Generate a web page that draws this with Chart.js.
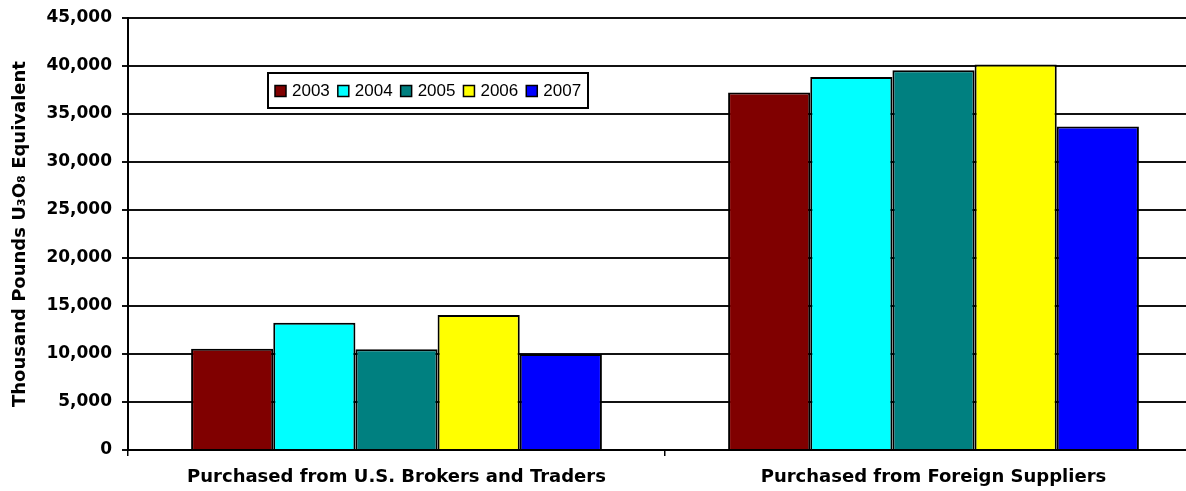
<!DOCTYPE html>
<html>
<head>
<meta charset="utf-8">
<script src="https://cdn.jsdelivr.net/npm/chart.js@4/dist/chart.umd.min.js"></script>
<style>
html,body{margin:0;padding:0;background:#fff;overflow:hidden;width:1186px;height:491px;}
#wrap{position:absolute;left:0;top:0;width:1210px;height:491px;}
</style>
</head>
<body>
<div id="wrap"><canvas id="c" width="1210" height="491"></canvas></div>
<script>
const categories = ["Purchased from U.S. Brokers and Traders", "Purchased from Foreign Suppliers"];
const years = ["2003", "2004", "2005", "2006", "2007"];
const values2003 = [10550, 37250];
const values2004 = [13250, 38850];
const values2005 = [10500, 39550];
const values2006 = [14050, 40150];
const values2007 = [10000, 33700];
const yTicks = [0, 5000, 10000, 15000, 20000, 25000, 30000, 35000, 40000, 45000];
const colors = ["#800000", "#00FFFF", "#008080", "#FFFF00", "#0000FF"];
const yTitle = "Thousand Pounds U\u2083O\u2088 Equivalent";

const seriesValues = [values2003, values2004, values2005, values2006, values2007];
const datasets = years.map((y, i) => ({
  label: y,
  data: seriesValues[i],
  backgroundColor: colors[i],
  borderColor: "#000",
  borderWidth: 2,
  borderSkipped: "bottom",
  categoryPercentage: 0.765,
  barPercentage: 1.0
}));

const boxLegend = {
  id: "boxLegend",
  afterDraw(chart) {
    const ctx = chart.ctx;
    const a = chart.chartArea;
    const left = a.left + 140, top = a.top + 55, w = 320, h = 35;
    ctx.save();
    ctx.fillStyle = "#fff";
    ctx.fillRect(left, top, w, h);
    ctx.strokeStyle = "#000";
    ctx.lineWidth = 2;
    ctx.strokeRect(left, top, w, h);
    ctx.font = "17px 'Liberation Sans', Arial, sans-serif";
    ctx.textBaseline = "middle";
    let x = left + 7;
    const cy = top + h / 2;
    chart.data.datasets.forEach(ds => {
      ctx.fillStyle = ds.backgroundColor;
      ctx.fillRect(x, cy - 5, 11, 11);
      ctx.lineWidth = 1.5;
      ctx.strokeStyle = "#000";
      ctx.strokeRect(x, cy - 5, 11, 11);
      ctx.fillStyle = "#000";
      ctx.fillText(ds.label, x + 17, cy + 1);
      x += 17 + ctx.measureText(ds.label).width + 8;
    });
    ctx.restore();
  }
};

new Chart(document.getElementById("c"), {
  type: "bar",
  data: { labels: categories, datasets },
  plugins: [boxLegend],
  options: {
    responsive: false,
    devicePixelRatio: 1,
    animation: false,
    layout: { padding: { left: 0, top: 18, right: 8, bottom: 0 } },
    plugins: { legend: { display: false }, tooltip: { enabled: false } },
    scales: {
      x: {
        grid: { offset: true, drawOnChartArea: false, drawTicks: true, tickLength: 6, color: "#000", lineWidth: 1.5 },
        border: { color: "#000", width: 2 },
        ticks: { color: "#000", padding: 11, font: { family: "'DejaVu Sans', sans-serif", weight: "bold", size: 18 } },
        afterFit(s) { s.height = 41; }
      },
      y: {
        min: 0, max: 45000,
        afterBuildTicks(s) { s.ticks = yTicks.map(v => ({ value: v })); },
        ticks: {
          color: "#000", padding: 10,
          font: { family: "'DejaVu Sans', sans-serif", weight: "bold", size: 17 },
          callback: v => v.toLocaleString("en-US")
        },
        grid: { color: "#111", lineWidth: 2, tickLength: 6 },
        border: { color: "#000", width: 2 },
        title: {
          display: true, text: yTitle, color: "#000",
          font: { family: "'DejaVu Sans', sans-serif", weight: "bold", size: 18 },
          padding: { top: 10, bottom: 0 }
        },
        afterFit(s) { s.width = 128; s.paddingTop = 0; s.paddingBottom = 0; }
      }
    }
  }
});
</script>
</body>
</html>
